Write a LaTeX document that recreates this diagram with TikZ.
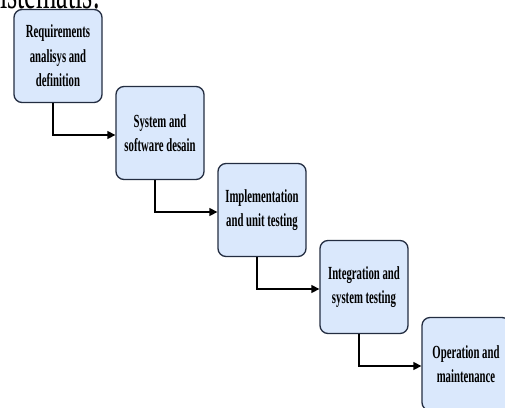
\documentclass[tikz,border=0pt]{standalone}
\usepackage{fontspec}
\setmainfont{Liberation Serif}
\newfontfamily\condfont[FakeStretch=0.58]{Liberation Serif}
\usetikzlibrary{arrows.meta}
\definecolor{boxfill}{RGB}{218,232,252}
\definecolor{boxline}{RGB}{35,45,65}
\begin{document}
\begin{tikzpicture}[x=1pt,y=-1pt,
  stage/.style={draw=boxline, fill=boxfill, line width=1.3pt, rounded corners=8pt,
    minimum width=88pt, minimum height=93pt, inner sep=0pt, align=center, text=black,
    font=\condfont\bfseries\fontsize{18.5}{24.5}\selectfont},
  flow/.style={line width=1.4pt, -{Triangle[length=8pt,width=8pt]}}]
\clip (0,0) rectangle (505,407);
\node[anchor=base west, inner sep=0pt, font=\condfont\fontsize{45}{48}\selectfont] (cap) at (0,8) {istematis.};
\node[stage] (b1) at (58,56) {Requirements\\analisys and\\definition};
\node[stage] (b2) at (160,133) {System and\\software desain};
\node[stage] (b3) at (262,210) {Implementation\\and unit testing};
\node[stage] (b4) at (364,287) {Integration and\\system testing};
\node[stage] (b5) at (466,364) {Operation and\\maintenance};
\draw[flow] ([xshift=-5pt]b1.south) |- ([yshift=-2pt]b2.west);
\draw[flow] ([xshift=-5pt]b2.south) |- ([yshift=-2pt]b3.west);
\draw[flow] ([xshift=-5pt]b3.south) |- ([yshift=-2pt]b4.west);
\draw[flow] ([xshift=-5pt]b4.south) |- ([yshift=-2pt]b5.west);
\end{tikzpicture}
\end{document}
